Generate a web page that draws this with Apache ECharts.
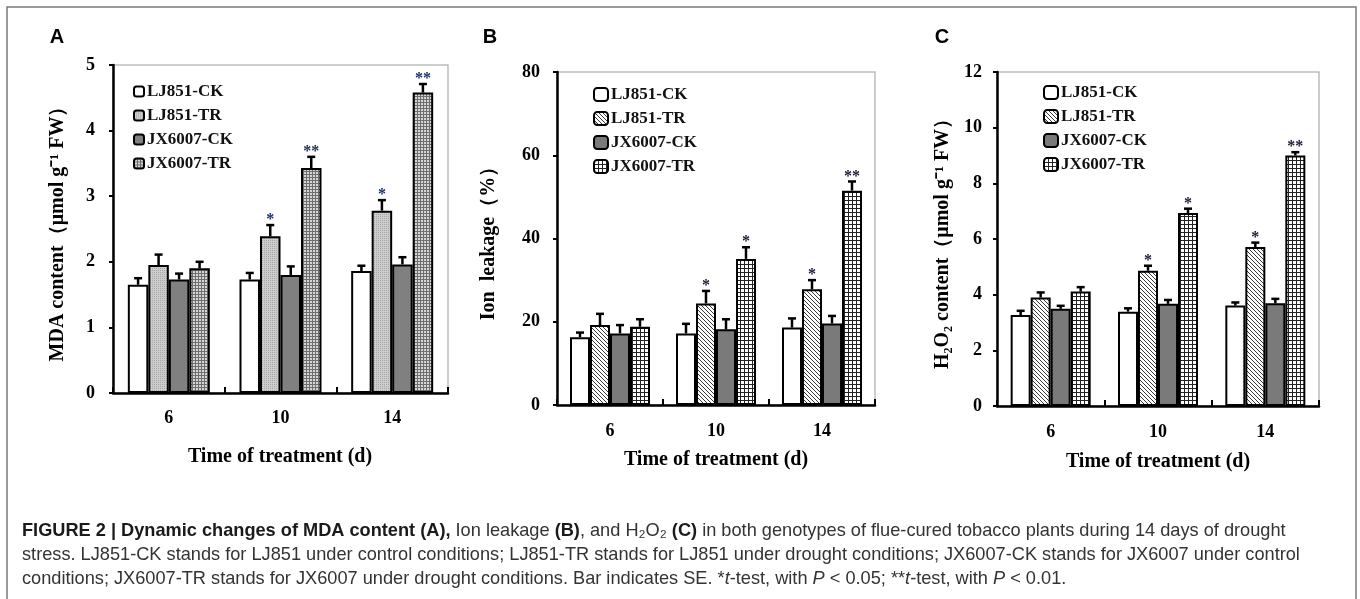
<!DOCTYPE html>
<html>
<head>
<meta charset="utf-8">
<script src="https://cdn.jsdelivr.net/npm/echarts@6/dist/echarts.min.js"></script>
<style>
  body { margin: 0; background: #fff; }
  #main { width: 1360px; height: 599px; }
</style>
</head>
<body>
<div id="main"></div>
<script>
var categories = ['6', '10', '14'];
var groupNames = ['LJ851-CK', 'LJ851-TR', 'JX6007-CK', 'JX6007-TR'];

// A: MDA content, rows follow groupNames
var mdaMeans = [
  [1.65, 1.73, 1.86],
  [1.95, 2.39, 2.78],
  [1.73, 1.80, 1.96],
  [1.90, 3.43, 4.58]
];
var mdaSE = [
  [0.10, 0.10, 0.08],
  [0.16, 0.17, 0.16],
  [0.09, 0.13, 0.11],
  [0.10, 0.17, 0.13]
];
var mdaStars = [
  ['', '', ''],
  ['', '*', '*'],
  ['', '', ''],
  ['', '**', '**']
];
var mdaTicks = [0, 1, 2, 3, 4, 5];

// B: ion leakage (%)
var ionMeans = [
  [16.3, 17.2, 18.6],
  [19.2, 24.4, 27.8],
  [17.2, 18.2, 19.6],
  [18.8, 35.1, 51.5]
];
var ionSE = [
  [1.1, 2.3, 2.2],
  [2.7, 3.0, 2.2],
  [2.0, 2.4, 1.8],
  [1.8, 2.8, 2.2]
];
var ionStars = [
  ['', '', ''],
  ['', '*', '*'],
  ['', '', ''],
  ['', '*', '**']
];
var ionTicks = [0, 20, 40, 60, 80];

// C: H2O2 content
var h2o2Means = [
  [3.27, 3.39, 3.61],
  [3.90, 4.86, 5.71],
  [3.49, 3.67, 3.69],
  [4.11, 6.93, 9.00]
];
var h2o2SE = [
  [0.15, 0.12, 0.11],
  [0.18, 0.18, 0.16],
  [0.11, 0.14, 0.16],
  [0.16, 0.16, 0.12]
];
var h2o2Stars = [
  ['', '', ''],
  ['', '*', '*'],
  ['', '', ''],
  ['', '*', '**']
];
var h2o2Ticks = [0, 2, 4, 6, 8, 10, 12];

var serif = '"Liberation Serif", "Times New Roman", serif';
var sans = '"Liberation Sans", Arial, sans-serif';

function makePattern(size, bg, fg, pixels) {
  var c = document.createElement('canvas');
  c.width = size;
  c.height = size;
  var ctx = c.getContext('2d');
  ctx.fillStyle = bg;
  ctx.fillRect(0, 0, size, size);
  ctx.fillStyle = fg;
  pixels.forEach(function (p) { ctx.fillRect(p[0], p[1], 1, 1); });
  return { image: c, repeat: 'repeat' };
}

var dots = makePattern(2, '#cdcdcd', '#a6a6a6', [[0, 0]]);
var fineGrid = makePattern(3, '#d6d6d6', '#6e6e6e', [[0, 0], [1, 0], [2, 0], [0, 1], [0, 2]]);
var hatch = makePattern(4, '#ffffff', '#3a3a3a', [[0, 0], [1, 1], [2, 2], [3, 3]]);
var grid4 = makePattern(4, '#ffffff', '#222222', [[0, 0], [1, 0], [2, 0], [3, 0], [0, 1], [0, 2], [0, 3]]);

var panels = [
  {
    means: mdaMeans, se: mdaSE, stars: mdaStars, ticks: mdaTicks,
    fills: ['#ffffff', dots, '#808080', fineGrid],
    grid: { left: 113, top: 65, width: 335, height: 328 },
    name: 'MDA content（μmol g⁻¹ FW）', nameGap: 45, yMargin: 18, xMargin: 16,
    barW: 20.5, starColor: '#1d2f66',
    legend: { left: 133, top: 83, w: 10, h: 10 }
  },
  {
    means: ionMeans, se: ionSE, stars: ionStars, ticks: ionTicks,
    fills: ['#ffffff', hatch, '#7a7a7a', grid4],
    grid: { left: 557, top: 72, width: 318, height: 333 },
    name: 'Ion  leakage（%）', nameGap: 58, yMargin: 17, xMargin: 17,
    barW: 20, starColor: '#1a1a33',
    legend: { left: 593, top: 86, w: 14, h: 13 }
  },
  {
    means: h2o2Means, se: h2o2SE, stars: h2o2Stars, ticks: h2o2Ticks,
    fills: ['#ffffff', hatch, '#7a7a7a', grid4],
    grid: { left: 997, top: 72, width: 322, height: 334 },
    name: 'H₂O₂ content（μmol g⁻¹ FW）', nameGap: 44, yMargin: 15, xMargin: 17,
    barW: 20, starColor: '#1a1a33',
    legend: { left: 1043, top: 84, w: 14, h: 13 }
  }
];

var myChart = echarts.init(document.getElementById('main'));

var grids = [], xAxes = [], yAxes = [], legends = [], series = [];

panels.forEach(function (p, pi) {
  grids.push({
    left: p.grid.left, top: p.grid.top, width: p.grid.width, height: p.grid.height,
    show: true, borderColor: '#bdbdbd', borderWidth: 1.5, backgroundColor: 'transparent'
  });
  xAxes.push({
    type: 'category', gridIndex: pi, data: categories,
    axisLine: { lineStyle: { color: '#000', width: 2.5 } },
    axisTick: { show: true, inside: true, length: 6, lineStyle: { color: '#000', width: 2 } },
    axisLabel: { margin: p.xMargin, color: '#000', fontFamily: serif, fontWeight: 'bold', fontSize: 18 },
    splitLine: { show: false }
  });
  var t = p.ticks;
  yAxes.push({
    type: 'value', gridIndex: pi,
    min: t[0], max: t[t.length - 1], interval: t[1] - t[0],
    name: p.name, nameLocation: 'middle', nameRotate: 90, nameGap: p.nameGap,
    nameTextStyle: { color: '#000', fontFamily: serif, fontWeight: 'bold', fontSize: 20 },
    axisLine: { show: true, lineStyle: { color: '#000', width: 2.5 } },
    axisTick: { show: true, inside: false, length: 4, lineStyle: { color: '#000', width: 2 } },
    axisLabel: { margin: p.yMargin, color: '#000', fontFamily: serif, fontWeight: 'bold', fontSize: 18 },
    splitLine: { show: false }
  });
  legends.push({
    orient: 'vertical', left: p.legend.left, top: p.legend.top, padding: 0,
    itemWidth: p.legend.w, itemHeight: p.legend.h, itemGap: 7, icon: 'roundRect',
    selectedMode: false,
    textStyle: { color: '#111', fontFamily: serif, fontWeight: 'bold', fontSize: 17, padding: [0, 0, 0, -2] },
    data: groupNames.map(function (n, k) {
      return { name: n, itemStyle: { color: p.fills[k], borderColor: '#000', borderWidth: 2 } };
    })
  });

  groupNames.forEach(function (n, k) {
    series.push({
      type: 'bar', name: n, xAxisIndex: pi, yAxisIndex: pi,
      data: p.means[k], barWidth: p.barW, barGap: '0%',
      itemStyle: { color: p.fills[k], borderColor: '#000', borderWidth: 2 },
      emphasis: { disabled: true }, silent: true
    });
  });

  // error bars (upper half only) and significance marks
  var recs = [];
  groupNames.forEach(function (n, k) {
    categories.forEach(function (c, ci) {
      recs.push({ ci: ci, k: k, mean: p.means[k][ci], top: p.means[k][ci] + p.se[k][ci], star: p.stars[k][ci] });
    });
  });
  series.push({
    type: 'custom', xAxisIndex: pi, yAxisIndex: pi, silent: true, z: 5, clip: false,
    data: recs.map(function (r) { return [r.ci, r.k, r.mean, r.top]; }),
    encode: { x: 0, y: 3 },
    renderItem: function (params, api) {
      var r = recs[params.dataIndex];
      var base = api.coord([api.value(0), api.value(2)]);
      var top = api.coord([api.value(0), api.value(3)]);
      var x = base[0] + (api.value(1) - 1.5) * p.barW;
      var kids = [
        { type: 'line', shape: { x1: x, y1: base[1], x2: x, y2: top[1] }, style: { stroke: '#000', lineWidth: 2.5 } },
        { type: 'line', shape: { x1: x - 4, y1: top[1], x2: x + 4, y2: top[1] }, style: { stroke: '#000', lineWidth: 2.5 } }
      ];
      if (r.star) {
        kids.push({
          type: 'text', x: x, y: top[1] - 5,
          style: { text: r.star, fill: p.starColor, fontFamily: serif, fontWeight: 'bold', fontSize: 16, align: 'center', verticalAlign: 'middle' }
        });
      }
      return { type: 'group', children: kids };
    }
  });
});

var capRich = {
  b: { fontFamily: sans, fontWeight: 'bold', fontSize: 18.2, fill: '#1a1a1a' },
  n: { fontFamily: sans, fontSize: 18.2, fill: '#333' },
  i: { fontFamily: sans, fontStyle: 'italic', fontSize: 18.2, fill: '#333' }
};
var capLines = [
  '{b|FIGURE 2 | Dynamic changes of MDA content (A),}{n| Ion leakage }{b|(B)}{n|, and H₂O₂ }{b|(C)}{n| in both genotypes of flue-cured tobacco plants during 14 days of drought}',
  '{n|stress. LJ851-CK stands for LJ851 under control conditions; LJ851-TR stands for LJ851 under drought conditions; JX6007-CK stands for JX6007 under control}',
  '{n|conditions; JX6007-TR stands for JX6007 under drought conditions. Bar indicates SE. *}{i|t}{n|-test, with }{i|P}{n| < 0.05; **}{i|t}{n|-test, with }{i|P}{n| < 0.01.}'
];

var titleStyle = { text: 'Time of treatment (d)', fontFamily: serif, fontWeight: 'bold', fontSize: 20, fill: '#000', align: 'center', verticalAlign: 'middle' };
var letterStyle = { fontFamily: sans, fontWeight: 'bold', fontSize: 20, fill: '#000', align: 'center', verticalAlign: 'middle' };

var graphics = [
  { type: 'rect', silent: true, shape: { x: 7, y: 7, width: 1349, height: 598 }, style: { fill: 'none', stroke: '#7a7a7a', lineWidth: 1.5 } },
  { type: 'text', x: 57, y: 37, style: Object.assign({ text: 'A' }, letterStyle) },
  { type: 'text', x: 490, y: 37, style: Object.assign({ text: 'B' }, letterStyle) },
  { type: 'text', x: 942, y: 37, style: Object.assign({ text: 'C' }, letterStyle) },
  { type: 'text', x: 280, y: 457, style: titleStyle },
  { type: 'text', x: 716, y: 460, style: titleStyle },
  { type: 'text', x: 1158, y: 462, style: titleStyle }
];
capLines.forEach(function (line, i) {
  graphics.push({ type: 'text', x: 22, y: 531 + i * 24, style: { text: line, rich: capRich, verticalAlign: 'middle' } });
});

option = {
  backgroundColor: '#fff',
  animation: false,
  grid: grids,
  xAxis: xAxes,
  yAxis: yAxes,
  legend: legends,
  series: series,
  graphic: graphics
};

myChart.setOption(option);
</script>
</body>
</html>
